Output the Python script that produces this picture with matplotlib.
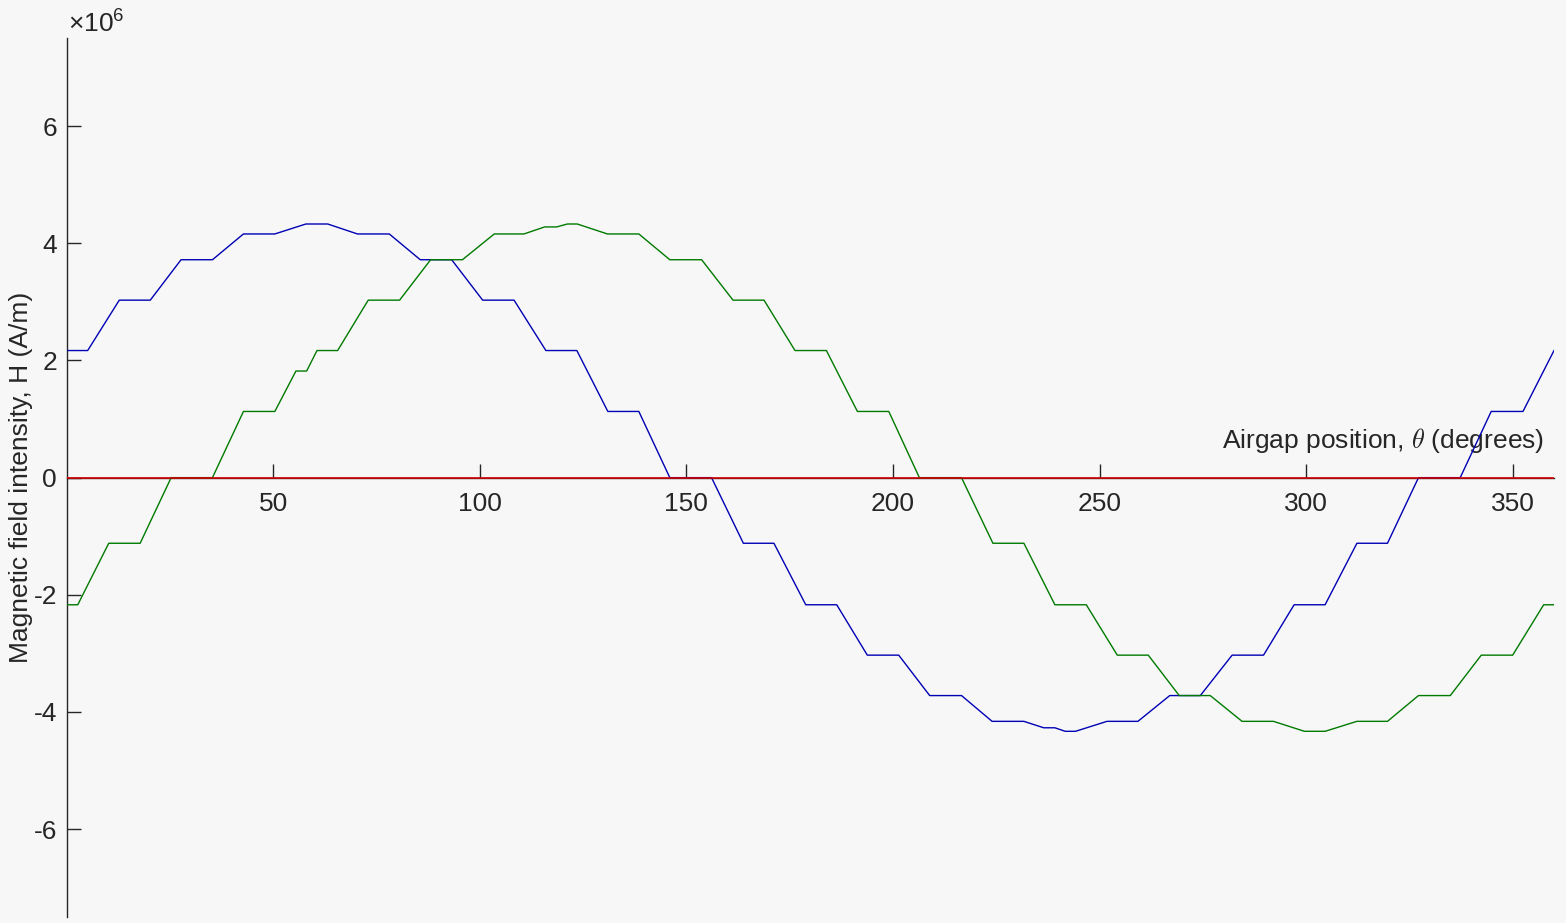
import matplotlib
matplotlib.use("Agg")
import matplotlib.pyplot as plt
from matplotlib.ticker import FixedLocator, FixedFormatter

plt.rcParams['font.family'] = ['Liberation Sans', 'DejaVu Sans']
plt.rcParams['axes.unicode_minus'] = False
plt.rcParams['mathtext.fontset'] = 'custom'
plt.rcParams['mathtext.rm'] = 'Liberation Sans'
plt.rcParams['mathtext.it'] = 'Liberation Sans:italic'

# Phase A (blue) breakpoints: airgap position (deg) and H (A/m)
theta_a = [0, 5.1, 12.75, 20.25, 27.7, 35.3, 42.8, 50.4, 57.9, 63.2, 70.4, 78.1,
           85.6, 93.2, 100.7, 108.3, 116.0, 123.5, 131.0, 138.5, 146.0, 156.1,
           163.8, 171.2, 178.9, 186.4, 193.8, 201.4, 208.9, 216.6, 224.0, 231.7,
           236.5, 239.2, 241.7, 244.2, 251.8, 259.3, 267.0, 274.4, 282.1, 289.7,
           297.1, 304.6, 312.3, 319.7, 327.2, 337.3, 344.8, 352.5, 360]
h_a = [2.17e6, 2.17e6, 3.03e6, 3.03e6, 3.72e6, 3.72e6, 4.16e6, 4.16e6, 4.33e6, 4.33e6,
       4.16e6, 4.16e6, 3.72e6, 3.72e6, 3.03e6, 3.03e6, 2.17e6, 2.17e6, 1.13e6, 1.13e6,
       0, 0, -1.12e6, -1.12e6, -2.17e6, -2.17e6, -3.03e6, -3.03e6, -3.72e6, -3.72e6,
       -4.16e6, -4.16e6, -4.27e6, -4.27e6, -4.33e6, -4.33e6, -4.16e6, -4.16e6,
       -3.72e6, -3.72e6, -3.03e6, -3.03e6, -2.17e6, -2.17e6, -1.12e6, -1.12e6,
       0, 0, 1.13e6, 1.13e6, 2.17e6]

# Phase B (green)
theta_b = [0, 2.7, 10.2, 17.8, 25.3, 35.3, 42.8, 50.4, 55.5, 58.1, 60.6, 65.6,
           73.0, 80.6, 88.1, 95.8, 103.5, 110.7, 115.7, 118.6, 121.2, 123.6,
           130.9, 138.5, 146.0, 153.7, 161.3, 168.8, 176.3, 183.9, 191.4, 199.0,
           206.4, 216.6, 224.2, 231.7, 239.2, 246.8, 254.3, 261.8, 269.3, 276.8,
           284.5, 292.1, 299.6, 304.6, 312.3, 319.7, 327.2, 334.9, 342.4, 350.0,
           357.5, 360]
h_b = [-2.17e6, -2.17e6, -1.12e6, -1.12e6, 0, 0, 1.13e6, 1.13e6, 1.82e6, 1.82e6,
       2.17e6, 2.17e6, 3.03e6, 3.03e6, 3.72e6, 3.72e6, 4.16e6, 4.16e6, 4.28e6, 4.28e6,
       4.33e6, 4.33e6, 4.16e6, 4.16e6, 3.72e6, 3.72e6, 3.03e6, 3.03e6, 2.17e6, 2.17e6,
       1.13e6, 1.13e6, 0, 0, -1.12e6, -1.12e6, -2.17e6, -2.17e6, -3.03e6, -3.03e6,
       -3.72e6, -3.72e6, -4.16e6, -4.16e6, -4.33e6, -4.33e6, -4.16e6, -4.16e6,
       -3.72e6, -3.72e6, -3.03e6, -3.03e6, -2.17e6, -2.17e6]

# Phase C (red) - zero everywhere
theta_c = [0, 360]
h_c = [0, 0]

x_ticks = [50, 100, 150, 200, 250, 300, 350]
x_tick_labels = ['50', '100', '150', '200', '250', '300', '350']
y_ticks = [-6e6, -4e6, -2e6, 0, 2e6, 4e6, 6e6]
y_tick_labels = ['-6', '-4', '-2', '0', '2', '4', '6']

bg = '#f7f7f7'
txt = '#262626'
fs = 19

fig = plt.figure(figsize=(15.66, 9.23), dpi=100, facecolor=bg)
ax = fig.add_axes([0.04253, 0.0065, 0.9498, 0.952], facecolor=bg)

ax.plot(theta_a, h_a, color='#0000b4', lw=1.0, zorder=3)
ax.plot(theta_b, h_b, color='#007a00', lw=1.0, zorder=3)
ax.plot(theta_c, h_c, color='#d40000', lw=1.2, zorder=3)

ax.set_xlim(0, 360)
ax.set_ylim(-7.5e6, 7.5e6)

ax.spines['top'].set_visible(False)
ax.spines['right'].set_visible(False)
ax.spines['bottom'].set_position(('data', 0))
for s in ('left', 'bottom'):
    ax.spines[s].set_color(txt)
    ax.spines[s].set_linewidth(1.0)

ax.xaxis.set_major_locator(FixedLocator(x_ticks))
ax.xaxis.set_major_formatter(FixedFormatter(x_tick_labels))
ax.yaxis.set_major_locator(FixedLocator(y_ticks))
ax.yaxis.set_major_formatter(FixedFormatter(y_tick_labels))

ax.tick_params(axis='x', direction='in', length=10, width=1, colors=txt,
               labelsize=fs, pad=10)
ax.tick_params(axis='y', direction='in', length=10, width=1, colors=txt,
               labelsize=fs, pad=7)

# exponent label above the y axis
ax.text(0.001, 1.0 + 6.0 / 878.7, '×10$^{6}$', transform=ax.transAxes,
        fontsize=fs, color=txt, ha='left', va='baseline')

ax.set_ylabel('Magnetic field intensity, H (A/m)', fontsize=fs, color=txt)
ax.yaxis.set_label_coords(-0.0226, 0.5)

xl = ax.set_xlabel(r'Airgap position, $\theta$ (degrees)', fontsize=fs, color=txt,
                   ha='right', va='baseline')
xl.set_math_fontfamily('cm')
ax.xaxis.set_label_coords(0.9935, 0.5334)

fig.savefig('out.png', dpi=100, facecolor=bg)
